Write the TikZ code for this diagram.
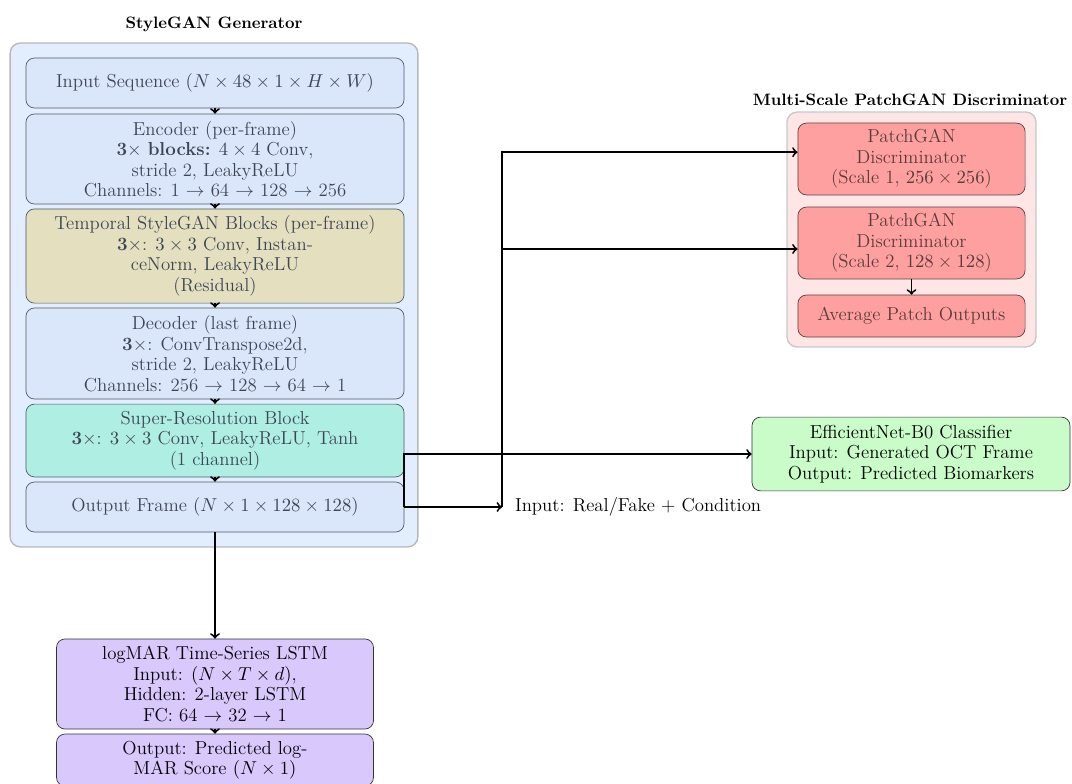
\documentclass[tikz,border=0pt]{standalone}
\definecolor{genbg}{HTML}{E2EEFD}
\definecolor{genframe}{HTML}{B8B8B8}
\definecolor{discbg}{HTML}{FEE6E6}
\definecolor{discframe}{HTML}{C8C8C8}
\definecolor{blockblue}{HTML}{DAE6FA}
\definecolor{blocksand}{HTML}{E4DFBF}
\definecolor{blockteal}{HTML}{AEEEE3}
\definecolor{blockred}{HTML}{FFA0A0}
\definecolor{blockgreen}{HTML}{C9FCC9}
\definecolor{blockviolet}{HTML}{D8C8FC}
\definecolor{gentext}{HTML}{3E4656}
\definecolor{disctext}{HTML}{5A3C3C}
\tikzset{
	block/.style = {draw = black!80, rounded corners = 5pt, align = center, inner sep = 2pt},
	genblock/.style = {block, draw = gentext!90, text = gentext, minimum width = 7.79cm},
	discblock/.style = {block, fill = blockred, draw = disctext, text = disctext, minimum width = 4.68cm},
	frame/.style = {thick, rounded corners = 6pt},
	title/.style = {font = \fontsize{9.7}{12}\selectfont\bfseries},
	flow/.style = {->, line width = 1.1pt}
}
\begin{document}
\begin{tikzpicture} [x = 0.0206cm, y = -0.0206cm, font = \fontsize{11}{12}\selectfont]
	\useasboundingbox (0,0) rectangle (1072,783);
	% generator
	\node [frame, draw = genframe, fill = genbg, minimum width = 8.40cm, minimum height = 10.38cm] (gen) at (214,295) {};
	\node [title] (gentitle) at (214,24) {StyleGAN Generator};
	\node [genblock, fill = blockblue, minimum height = 1.03cm] (inp) at (215,83) {Input Sequence $(N \times 48 \times 1 \times H \times W)$};
	\node [genblock, fill = blockblue, minimum height = 1.855cm] (enc) at (215,159) {Encoder (per-frame)\\ \textbf{3}$\times$ \textbf{blocks:} $4 \times 4$ Conv,\\ stride 2, LeakyReLU\\ Channels: 1 $\rightarrow$ 64 $\rightarrow$ 128 $\rightarrow$ 256};
	\node [genblock, fill = blocksand, minimum height = 1.94cm] (temp) at (215,256) {Temporal StyleGAN Blocks (per-frame)\\ \textbf{3}$\times$: $3 \times 3$ Conv, Instan-\\ ceNorm, LeakyReLU\\ (Residual)};
	\node [genblock, fill = blockblue, minimum height = 1.875cm] (dec) at (215,353.5) {Decoder (last frame)\\ \textbf{3}$\times$: ConvTranspose2d,\\ stride 2, LeakyReLU\\ Channels: 256 $\rightarrow$ 128 $\rightarrow$ 64 $\rightarrow$ 1};
	\node [genblock, fill = blockteal, minimum height = 1.50cm] (sr) at (215,440.5) {Super-Resolution Block\\ \textbf{3}$\times$: $3 \times 3$ Conv, LeakyReLU, Tanh\\ (1 channel)};
	\node [genblock, fill = blockblue, minimum height = 1.03cm] (out) at (215,507) {Output Frame $(N \times 1 \times 128 \times 128)$};
	\draw [flow] (inp) -- (enc);
	\draw [flow] (enc) -- (temp);
	\draw [flow] (temp) -- (dec);
	\draw [flow] (dec) -- (sr);
	\draw [flow] (sr) -- (out);
	% discriminator
	\node [frame, draw = discframe, fill = discbg, minimum width = 5.13cm, minimum height = 4.84cm] (disc) at (911.5,229.5) {};
	\node [title] (disctitle) at (910,100) {Multi-Scale PatchGAN Discriminator};
	\node [discblock, minimum height = 1.48cm] (p1) at (911.5,159) {PatchGAN\\ Discriminator\\ (Scale 1, $256 \times 256$)};
	\node [discblock, minimum height = 1.48cm] (p2) at (911.5,243) {PatchGAN\\ Discriminator\\ (Scale 2, $128 \times 128$)};
	\node [discblock, minimum height = 0.865cm] (avg) at (911.5,316) {Average Patch Outputs};
	\draw [flow] (p2) -- (avg);
	% classifier and lstm
	\node [block, fill = blockgreen, minimum width = 6.55cm, minimum height = 1.52cm] (cls) at (911,454) {EfficientNet-B0 Classifier\\ Input: Generated OCT Frame\\ Output: Predicted Biomarkers};
	\node [block, fill = blockviolet, minimum width = 6.53cm, minimum height = 1.855cm] (lstm) at (215,684) {logMAR Time-Series LSTM\\ Input: $(N \times T \times d)$,\\ Hidden: 2-layer LSTM\\ FC: 64 $\rightarrow$ 32 $\rightarrow$ 1};
	\node [block, fill = blockviolet, minimum width = 6.53cm, minimum height = 1.07cm] (score) at (215,760) {Output: Predicted log-\\ MAR Score $(N \times 1)$};
	\draw [flow] (lstm) -- (score);
	% connections
	\node [anchor = west, inner xsep = 7.5pt, inner ysep = 0pt] (real) at (502,507) {Input: Real/Fake + Condition};
	\draw [flow] (out.east) -- (real.west);
	\draw [flow] (out.east) |- (cls.west);
	\draw [flow] (real.west) |- ([yshift = 4pt]p1.west);
	\draw [flow] (real.west) |- ([yshift = -3.5pt]p2.west);
	\draw [flow] (out.south) -- (lstm.north);
\end{tikzpicture}
\end{document}
